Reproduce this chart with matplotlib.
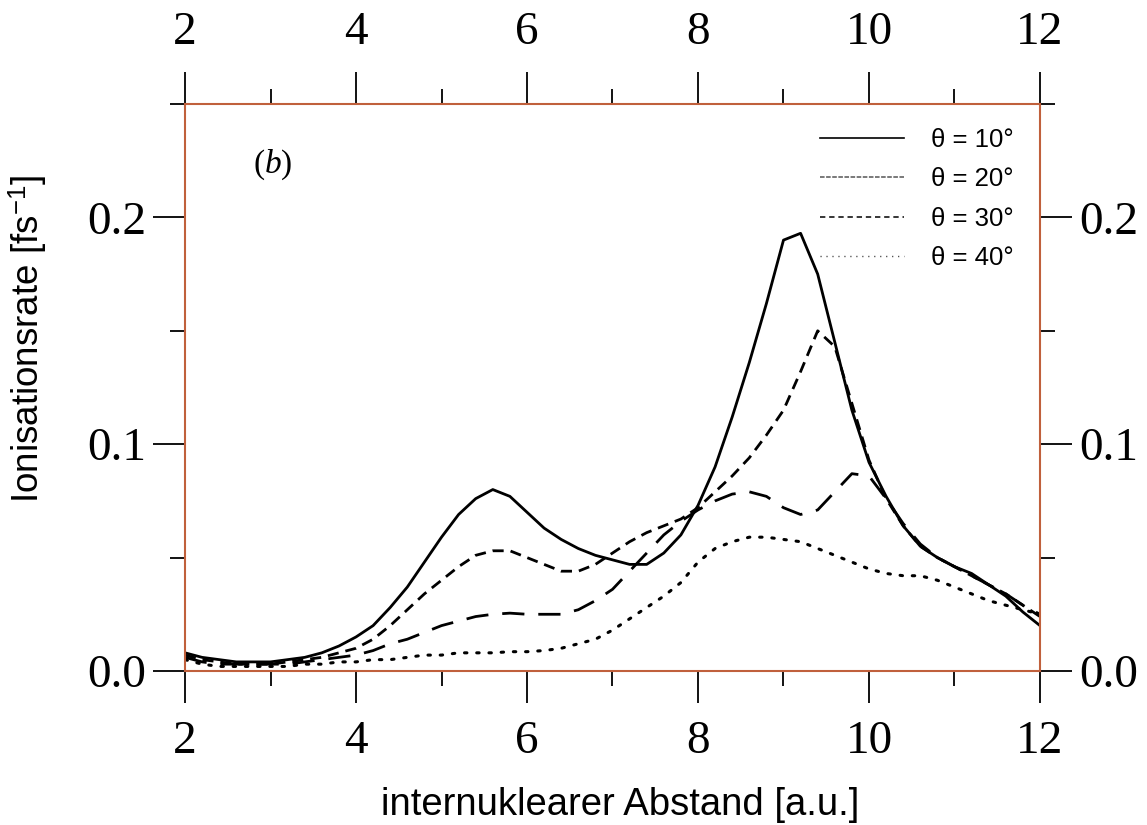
import numpy as np
import matplotlib
matplotlib.use("Agg")
import matplotlib.pyplot as plt
from matplotlib.lines import Line2D
from matplotlib.ticker import FixedLocator

plt.rcParams['mathtext.fontset'] = 'custom'
plt.rcParams['mathtext.rm'] = 'Liberation Serif'
plt.rcParams['mathtext.it'] = 'Liberation Serif:italic'

# internuclear distance grid [a.u.]
abstand = [2.0, 2.2, 2.4, 2.6, 2.8, 3.0, 3.2, 3.4, 3.6, 3.8,
           4.0, 4.2, 4.4, 4.6, 4.8, 5.0, 5.2, 5.4, 5.6, 5.8,
           6.0, 6.2, 6.4, 6.6, 6.8, 7.0, 7.2, 7.4, 7.6, 7.8,
           8.0, 8.2, 8.4, 8.6, 8.8, 9.0, 9.2, 9.4, 9.6, 9.8,
           10.0, 10.2, 10.4, 10.6, 10.8, 11.0, 11.2, 11.4, 11.6, 11.8, 12.0]

# ionisation rates [fs^-1] for the four alignment angles
rate_10 = [0.008, 0.006, 0.005, 0.004, 0.004, 0.004, 0.005, 0.006, 0.008, 0.011,
           0.015, 0.020, 0.028, 0.037, 0.048, 0.059, 0.069, 0.076, 0.080, 0.077,
           0.070, 0.063, 0.058, 0.054, 0.051, 0.049, 0.047, 0.047, 0.052, 0.060,
           0.073, 0.090, 0.112, 0.136, 0.162, 0.190, 0.193, 0.175, 0.145, 0.115,
           0.092, 0.077, 0.064, 0.055, 0.050, 0.046, 0.043, 0.038, 0.033, 0.026, 0.020]

rate_20 = [0.007, 0.005, 0.004, 0.003, 0.003, 0.003, 0.004, 0.005, 0.006, 0.008,
           0.010, 0.014, 0.020, 0.027, 0.034, 0.040, 0.046, 0.051, 0.053, 0.053,
           0.050, 0.047, 0.044, 0.044, 0.047, 0.052, 0.057, 0.061, 0.064, 0.067,
           0.072, 0.079, 0.086, 0.094, 0.104, 0.115, 0.132, 0.150, 0.143, 0.118,
           0.093, 0.076, 0.064, 0.055, 0.050, 0.046, 0.042, 0.038, 0.034, 0.029, 0.024]

rate_30 = [0.006, 0.004, 0.003, 0.003, 0.003, 0.003, 0.003, 0.004, 0.005, 0.006,
           0.007, 0.009, 0.012, 0.014, 0.017, 0.020, 0.022, 0.024, 0.025, 0.0255,
           0.025, 0.025, 0.025, 0.027, 0.031, 0.036, 0.044, 0.052, 0.060, 0.066,
           0.071, 0.075, 0.078, 0.079, 0.077, 0.072, 0.069, 0.071, 0.079, 0.087,
           0.086, 0.076, 0.065, 0.056, 0.050, 0.046, 0.042, 0.038, 0.034, 0.029, 0.025]

rate_40 = [0.005, 0.003, 0.002, 0.002, 0.002, 0.002, 0.002, 0.003, 0.003, 0.004,
           0.004, 0.005, 0.005, 0.006, 0.007, 0.007, 0.008, 0.008, 0.008, 0.0085,
           0.0085, 0.009, 0.010, 0.012, 0.014, 0.018, 0.023, 0.028, 0.033, 0.039,
           0.048, 0.054, 0.057, 0.059, 0.059, 0.058, 0.057, 0.054, 0.051, 0.048,
           0.045, 0.043, 0.042, 0.042, 0.040, 0.037, 0.034, 0.031, 0.029, 0.027, 0.025]

labels = ['θ = 10°', 'θ = 20°', 'θ = 30°', 'θ = 40°']

frame_col = '#c0603c'

fig = plt.figure(figsize=(11.47, 8.25), dpi=100)
ax = fig.add_axes([0.1613, 0.1867, 0.7454, 0.6872])

ax.plot(abstand, rate_10, color='black', lw=2.0)
ax.plot(abstand, rate_20, color='black', lw=2.0, dashes=(4, 2.5))
ax.plot(abstand, rate_30, color='black', lw=2.0, dashes=(8, 5))
ax.plot(abstand, rate_40, color='black', lw=2.2, dashes=(0.8, 3.2), dash_capstyle='round')

ax.set_xlim(2, 12)
ax.set_ylim(0, 0.25)

ax.xaxis.set_major_locator(FixedLocator([2, 4, 6, 8, 10, 12]))
ax.xaxis.set_minor_locator(FixedLocator([3, 5, 7, 9, 11]))
ax.yaxis.set_major_locator(FixedLocator([0.0, 0.1, 0.2]))
ax.yaxis.set_minor_locator(FixedLocator([0.05, 0.15, 0.25]))
ax.set_yticklabels(['0.0', '0.1', '0.2'])

ax.tick_params(which='both', direction='out', top=True, right=True,
               labeltop=True, labelright=True, color='black', width=1.3)
ax.tick_params(which='major', length=23)
ax.tick_params(which='minor', length=11)
ax.tick_params(axis='x', which='major', pad=13)
ax.tick_params(axis='y', which='major', pad=5)
for lab in ax.get_xticklabels() + ax.get_yticklabels():
    lab.set_family('Liberation Serif')
    lab.set_fontsize(34)

for sp in ax.spines.values():
    sp.set_color(frame_col)
    sp.set_linewidth(1.5)

ax.set_xlabel('internuklearer Abstand [a.u.]', family='Liberation Sans',
              fontsize=27.5)
ax.xaxis.set_label_coords(0.509, -0.205)
ax.set_ylabel(r'Ionisationsrate [fs$^{\mathregular{-1}}$]', family='Liberation Sans',
              fontsize=26.5)
ax.yaxis.set_label_coords(-0.159, 0.585)

ax.text(3.03, 0.223, r'($\mathit{b}$)', family='Liberation Serif',
        fontsize=24, ha='center', va='center')

# legend keys use thin line styles
handles = [Line2D([], [], color='black', lw=1.2),
           Line2D([], [], color='#555555', lw=1.1, dashes=(3, 1)),
           Line2D([], [], color='black', lw=1.1, dashes=(3.5, 2.5)),
           Line2D([], [], color='#333333', lw=1.0, dashes=(0.8, 3.5))]
leg = ax.legend(handles, labels, loc='upper right', bbox_to_anchor=(0.99, 0.99),
                frameon=False, handlelength=3.25, handletextpad=1.05,
                labelspacing=0.6, borderpad=0.2,
                prop={'family': 'Liberation Sans', 'size': 18.5})

fig.savefig('out.png', dpi=100)
